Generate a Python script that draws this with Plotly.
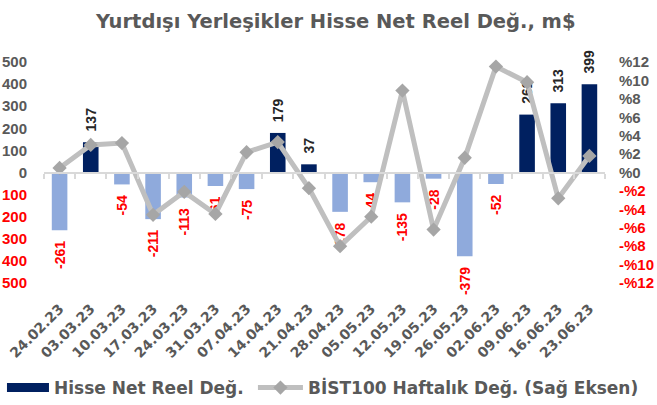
import plotly.graph_objects as go

dates = ["24.02.23", "03.03.23", "10.03.23", "17.03.23", "24.03.23", "31.03.23",
         "07.04.23", "14.04.23", "21.04.23", "28.04.23", "05.05.23", "12.05.23",
         "19.05.23", "26.05.23", "02.06.23", "09.06.23", "16.06.23", "23.06.23"]
net_flow = [-261, 137, -54, -211, -113, -61, -75, 179, 37, -178, -44, -135,
            -28, -379, -52, 262, 313, 399]
bist_weekly = [0.5, 3.0, 3.2, -4.6, -2.1, -4.5, 2.2, 3.3, -1.7, -8.0, -4.8, 8.9,
               -6.2, 1.6, 11.5, 9.8, -2.8, 1.8]
left_ticks = [-500, -400, -300, -200, -100, 0, 100, 200, 300, 400, 500]
right_ticks = [-12, -10, -8, -6, -4, -2, 0, 2, 4, 6, 8, 10, 12]

title_text = "Yurtdışı Yerleşikler Hisse Net Reel Değ., m$"
bar_name = "Hisse Net Reel Değ."
line_name = "BİST100 Haftalık Değ. (Sağ Eksen)"

NAVY = "#002060"
LIGHT = "#8FAADC"
RED = "#FF0000"
GRAY = "#595959"
LINE_GRAY = "#BFBFBF"

bar_colors = [NAVY if v >= 0 else LIGHT for v in net_flow]
label_colors = ["#262626" if v >= 0 else RED for v in net_flow]
label_text = [("&nbsp;&nbsp;" + str(v)) if v >= 0 else (str(v) + "&nbsp;&nbsp;") for v in net_flow]

left_text = [f"<span style='color:{GRAY}'>{v}</span>" if v >= 0 else f"<span style='color:{RED}'>{abs(v)}</span>" for v in left_ticks]
right_text = [f"<span style='color:{GRAY}'>%{v}</span>" if v >= 0 else f"<span style='color:{RED}'>-%{abs(v)}</span>" for v in right_ticks]

fig = go.Figure()

fig.add_trace(go.Bar(
    x=dates, y=net_flow, name=bar_name, marker=dict(color=bar_colors, line=dict(width=0)),
    width=0.5, text=label_text, textposition="outside", textangle=-90,
    textfont=dict(family="Liberation Sans", size=14, color=label_colors, weight="bold"),
    cliponaxis=False, constraintext="none", showlegend=False, hoverinfo="x+y",
))

# legend proxy for the bar series (wide rectangle symbol)
fig.add_trace(go.Scatter(
    x=[None], y=[None], mode="lines", name=bar_name,
    line=dict(color=NAVY, width=9), showlegend=True, hoverinfo="skip",
    legend="legend",
))

fig.add_trace(go.Scatter(
    x=dates, y=bist_weekly, name=line_name, yaxis="y2", mode="lines+markers",
    line=dict(color=LINE_GRAY, width=5),
    marker=dict(symbol="diamond", size=11, color="#A6A6A6"),
    cliponaxis=False, legend="legend2",
))

# invisible trace to draw the category axis at zero
fig.add_trace(go.Scatter(
    x=list(range(len(dates))), y=[None] * len(dates), xaxis="x2", yaxis="y",
    mode="markers", showlegend=False, hoverinfo="skip",
))

legend_font = dict(family="DejaVu Sans", size=17, color=GRAY, weight="bold")

fig.update_layout(
    width=657, height=405,
    margin=dict(l=44, r=52, t=62, b=122, autoexpand=False),
    paper_bgcolor="white", plot_bgcolor="white",
    title=dict(text=title_text, x=0.511, y=0.948, xref="container", yref="container",
               xanchor="center", yanchor="middle",
               font=dict(family="DejaVu Sans", size=19.5, color=GRAY, weight="bold")),
    xaxis=dict(type="category", categoryorder="array", categoryarray=dates,
               range=[-0.5, len(dates) - 0.5],
               tickangle=-45, showline=False, ticks="", showgrid=False, zeroline=False,
               tickfont=dict(family="DejaVu Sans", size=14, color=GRAY, weight="bold"),
               ticklabelstandoff=14, automargin=False),
    xaxis2=dict(overlaying="x", anchor="free", position=0.5, range=[-0.5, len(dates) - 0.5],
                tickvals=[i + 0.5 for i in range(-1, len(dates))],
                ticks="outside", ticklen=5, tickcolor="#D9D9D9", tickwidth=1.5,
                showline=True, linecolor="#D9D9D9", linewidth=2,
                showticklabels=False, showgrid=False, zeroline=False),
    yaxis=dict(range=[-500, 500], tickvals=left_ticks, ticktext=left_text,
               showgrid=False, zeroline=False, showline=False, ticks="",
               tickfont=dict(family="Liberation Sans", size=15, color=GRAY, weight="bold"),
               ticklabelstandoff=16, automargin=False),
    yaxis2=dict(range=[-12, 12], tickvals=right_ticks, ticktext=right_text,
                overlaying="y", side="right", anchor="x",
                showgrid=False, zeroline=False, showline=False, ticks="",
                tickfont=dict(family="Liberation Sans", size=15, color=GRAY, weight="bold"),
                ticklabelstandoff=13, automargin=False),
    legend=dict(orientation="h", x=0.003, y=0.042, xref="container", yref="container",
                xanchor="left", yanchor="middle", font=legend_font,
                itemwidth=42, bgcolor="rgba(0,0,0,0)"),
    legend2=dict(orientation="h", x=0.385, y=0.042, xref="container", yref="container",
                 xanchor="left", yanchor="middle", font=legend_font,
                 itemwidth=45, bgcolor="rgba(0,0,0,0)"),
    bargap=0.5,
)

fig.write_html("out.html", config={"displayModeBar": False},
               post_script="document.body.style.margin='0';")
